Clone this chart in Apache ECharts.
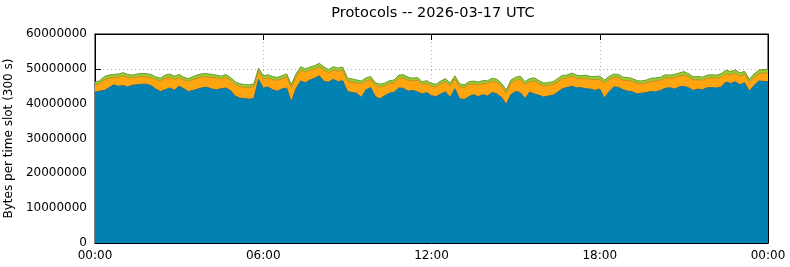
<!DOCTYPE html>
<html>
<head>
<meta charset="utf-8">
<script src="https://cdn.jsdelivr.net/npm/echarts@6/dist/echarts.min.js"></script>
<style>
html,body{margin:0;padding:0;background:#fff;}
#c{width:790px;height:267px;}
</style>
</head>
<body>
<div id="c"></div>
<script>
const titleText = 'Protocols -- 2026-03-17 UTC';
const yAxisName = 'Bytes per time slot (300 s)';
const slotMinutes = 10;
const yTicks = [0, 10000000, 20000000, 30000000, 40000000, 50000000, 60000000];
const xTickLabels = ['00:00', '06:00', '12:00', '18:00', '00:00'];

// values in millions of bytes, one per 10-minute slot (00:00 .. 24:00)
const blueM = [
43.3,43.6,43.8,44.6,45.4,45.0,45.2,44.8,45.3,45.4,45.6,45.6,45.2,44.2,43.5,44.0,44.5,43.9,45.0,44.3,
43.5,43.8,44.2,44.6,44.7,44.2,44.0,44.3,44.5,43.8,42.2,41.6,41.5,41.3,41.5,47.0,44.5,44.8,44.0,43.6,
44.2,44.5,40.5,44.3,46.5,46.0,46.8,47.3,48.0,46.4,46.2,47.0,46.3,46.6,43.5,43.2,43.0,41.8,44.0,44.6,
42.0,41.4,42.3,43.0,43.3,44.5,44.4,43.6,43.8,43.4,42.8,43.2,42.3,42.0,42.8,43.4,41.8,44.3,41.4,41.2,
42.0,42.6,42.0,42.6,42.2,43.2,42.8,41.8,39.8,42.6,43.5,43.2,41.5,43.3,42.8,42.4,41.9,42.2,42.4,43.3,
44.3,44.6,45.0,44.6,44.6,44.3,44.2,43.8,44.2,41.6,43.5,44.8,44.7,44.0,43.6,43.4,42.8,43.0,43.2,43.5,
43.4,43.8,44.4,44.6,44.2,44.8,45.0,44.6,43.8,44.2,44.0,44.6,44.6,44.5,44.8,46.2,45.8,46.3,45.4,46.0,
43.6,45.2,46.5,46.4,46.3];
const orangeM = [
2.1,2.2,3.1,2.7,2.1,2.6,2.8,2.7,2.1,2.3,2.2,2.1,2.3,2.7,3.0,3.3,3.1,3.1,2.5,2.5,
2.9,3.1,3.2,3.1,3.0,3.3,3.4,2.8,3.0,2.9,3.3,3.3,3.2,3.3,3.4,2.3,2.6,2.6,2.9,3.1,
2.9,3.2,4.1,3.3,3.1,3.1,2.8,2.6,2.6,3.2,2.7,2.6,3.0,3.0,3.0,3.0,3.0,3.9,2.5,2.3,
3.2,3.4,2.8,2.8,2.7,2.8,3.0,3.1,2.7,3.3,2.7,2.6,2.7,2.8,2.9,2.9,3.3,2.8,3.5,3.4,
3.5,3.1,3.4,3.2,3.6,3.2,3.3,3.2,3.3,3.4,3.2,3.8,4.0,3.0,3.7,3.4,3.2,3.1,3.1,3.0,
2.9,2.7,2.9,2.7,2.5,3.0,2.7,3.1,2.8,4.4,3.4,2.8,2.8,2.7,3.0,3.0,3.0,2.7,2.8,2.9,
3.1,2.9,3.0,2.7,3.3,3.1,3.2,3.1,3.0,2.7,2.7,2.7,2.8,2.8,2.9,2.4,2.5,2.4,2.5,2.4,
2.6,2.4,2.1,2.4,2.5];
const greenM = [
0.8,0.8,0.9,0.9,0.9,0.9,0.9,0.9,0.8,0.8,0.9,0.9,0.9,0.8,0.8,0.9,0.9,0.9,0.9,0.8,
0.8,0.9,0.9,0.9,0.9,0.9,0.8,0.8,0.9,0.8,0.8,0.8,0.8,0.8,0.8,0.9,0.9,0.9,0.9,0.8,
0.9,0.9,0.9,0.9,1.0,0.9,0.9,1.0,1.0,0.9,0.9,1.0,0.9,0.9,0.9,0.9,0.8,0.8,0.9,0.9,
0.8,0.8,0.8,0.8,0.8,0.9,0.9,0.9,0.8,0.8,0.8,0.8,0.8,0.8,0.8,0.9,0.8,0.9,0.8,0.8,
0.8,0.8,0.8,0.8,0.8,0.9,0.9,0.8,0.8,0.8,0.9,0.9,0.8,0.9,0.9,0.8,0.8,0.8,0.8,0.9,
0.9,0.9,0.9,0.9,0.9,0.9,0.9,0.9,0.9,0.8,0.9,0.9,0.9,0.9,0.9,0.8,0.8,0.8,0.8,0.9,
0.9,0.9,0.9,0.9,0.9,0.9,1.0,0.9,0.9,0.9,0.9,0.9,0.9,0.9,0.9,1.0,0.9,1.0,0.9,0.9,
0.8,0.9,1.0,1.0,1.0];

const slotsPerLabel = 360 / slotMinutes;
const pad = n => (n < 10 ? '0' : '') + n;
const categories = blueM.map((_, i) => {
  const m = i * slotMinutes;
  return pad(Math.floor(m / 60) % 24) + ':' + pad(m % 60);
});
const toBytes = arr => arr.map(v => Math.round(v * 1e6));
const isMajor = idx => idx % slotsPerLabel === 0;

const font = 'DejaVu Sans';
const chart = echarts.init(document.getElementById('c'), null, {renderer: 'canvas'});

const mkSeries = (name, data, fill, edge) => ({
  name, type: 'line', stack: 'all', data: toBytes(data),
  symbol: 'none', showSymbol: false, smooth: false,
  lineStyle: {width: 1, color: edge},
  areaStyle: {color: fill, opacity: 1},
  itemStyle: {color: fill},
  emphasis: {disabled: true},
  animation: false
});

const xBase = {
  type: 'category', data: categories, boundaryGap: false,
  axisLine: {show: true, onZero: false, lineStyle: {color: '#000'}},
  axisTick: {show: true, inside: true, length: 6, interval: (i) => isMajor(i), lineStyle: {color: '#000'}}
};

chart.setOption({
  animation: false,
  backgroundColor: '#fff',
  title: {
    text: titleText, left: 428, top: 1, textAlign: 'center',
    textStyle: {fontFamily: font, fontSize: 14.5, fontWeight: 'normal', color: '#000'}
  },
  grid: {left: 95, right: 22, top: 34, bottom: 24, containLabel: false, outerBoundsMode: 'none',
         show: true, borderColor: '#000', borderWidth: 1, backgroundColor: 'transparent'},
  xAxis: [Object.assign({}, xBase, {
    position: 'bottom',
    axisLabel: {interval: (i) => isMajor(i), formatter: (v, i) => xTickLabels[i / slotsPerLabel],
                fontFamily: font, fontSize: 12, color: '#000', margin: 7},
    splitLine: {show: true, interval: (i) => isMajor(i), lineStyle: {color: '#b0b0b0', type: [1, 3], width: 1}}
  }), Object.assign({}, xBase, {
    position: 'top', axisLabel: {show: false}, splitLine: {show: false}
  })],
  yAxis: [{
    type: 'value', min: yTicks[0], max: yTicks[yTicks.length - 1], interval: 10000000,
    name: yAxisName, nameLocation: 'middle', nameGap: 76,
    nameTextStyle: {fontFamily: font, fontSize: 12, color: '#000'},
    axisLine: {show: true, lineStyle: {color: '#000'}},
    axisTick: {show: true, inside: true, length: 6, lineStyle: {color: '#000'}},
    axisLabel: {formatter: v => String(v), fontFamily: font, fontSize: 12, color: '#000', margin: 8},
    splitLine: {show: true, lineStyle: {color: '#b0b0b0', type: [1, 3], width: 1}}
  }, {
    type: 'value', position: 'right', min: yTicks[0], max: yTicks[yTicks.length - 1], interval: 10000000,
    axisLine: {show: true, lineStyle: {color: '#000'}},
    axisTick: {show: true, inside: true, length: 6, lineStyle: {color: '#000'}},
    axisLabel: {show: false}, splitLine: {show: false}
  }],
  series: [
    mkSeries('blue', blueM, '#0281b3', '#1f6a8c'),
    mkSeries('orange', orangeM, '#ffa510', '#c98a1e'),
    mkSeries('green', greenM, '#97cc34', '#6f9a2a')
  ]
});
</script>
</body>
</html>
